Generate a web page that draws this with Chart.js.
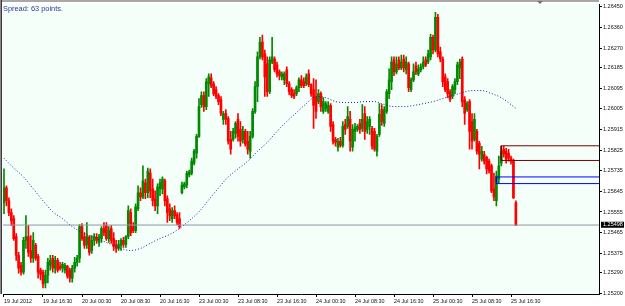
<!DOCTYPE html>
<html><head><meta charset="utf-8">
<script src="https://cdn.jsdelivr.net/npm/chart.js@4.4.0/dist/chart.umd.min.js"></script>
<style>html,body{margin:0;padding:0;background:#fff;overflow:hidden}canvas{display:block}</style>
</head><body>
<canvas id="c" width="625" height="306"></canvas>
<script>
// M30 candles, 19 Jul 2012 08:30 .. 25 Jul 2012 17:30
// prices are stored in points above 1.25000 (1 point = 0.00001)
const OPEN = [
595,660,604,552,526,448,366,322,292,431,
448,387,353,409,361,301,292,245,279,322,
353,310,344,318,310,301,318,301,266,310,
335,353,491,448,413,444,387,431,444,422,
439,483,496,439,483,439,413,396,409,431,
413,448,552,491,474,569,639,621,682,639,
725,656,613,582,656,656,691,613,569,526,
561,543,526,639,665,673,717,725,768,812,
885,1024,1063,1015,1115,1141,1115,1089,1063,1046,
959,985,963,872,872,898,959,916,872,907,
864,820,885,994,1102,1232,1297,1245,1202,1080,
1210,1223,1197,1167,1145,1132,1176,1115,1089,1072,
1072,1098,1132,1124,1115,1158,1111,1089,1059,1037,
1072,994,1007,994,1020,937,872,838,864,846,
937,929,959,838,907,916,942,920,985,916,
929,920,907,820,894,1002,942,994,1072,1124,
1219,1167,1219,1184,1223,1176,1202,1089,1132,1193,
1158,1176,1189,1219,1210,1232,1318,1262,1405,1254,
1223,1145,1124,1080,1059,1089,1124,1184,1223,1046,
1002,1037,950,872,907,855,786,807,794,777,
756,656,604,699,768,829,820,812,790,777,
595];
const HIGH = [
743,669,617,569,539,461,379,335,444,539,
496,452,465,418,370,310,301,301,353,366,
366,361,353,335,335,331,322,310,322,357,
366,500,504,465,509,452,452,461,461,457,
491,509,509,491,496,465,431,431,439,444,
452,582,569,509,591,669,660,756,699,747,
743,699,647,678,699,708,699,626,591,574,
582,552,552,686,686,734,738,790,829,894,
1050,1080,1080,1137,1158,1158,1124,1102,1072,1059,
994,1002,972,907,920,950,985,950,929,916,
907,907,1007,1124,1254,1318,1327,1262,1232,1232,
1318,1232,1210,1176,1167,1167,1189,1124,1098,1089,
1106,1141,1150,1141,1158,1176,1115,1137,1132,1089,
1080,1054,1037,1037,1028,950,881,877,881,950,
959,1015,994,937,942,937,959,1024,1015,972,
972,929,920,894,1028,1024,1015,1089,1180,1232,
1232,1232,1232,1240,1240,1232,1210,1141,1202,1210,
1197,1202,1232,1232,1262,1331,1327,1427,1418,1275,
1232,1158,1137,1089,1111,1137,1210,1223,1232,1059,
1037,1046,985,985,916,864,842,820,799,786,
764,725,734,799,842,842,833,829,799,786,
604];
const LOW = [
548,582,539,496,431,344,288,279,284,396,
361,335,335,344,266,258,223,223,245,301,
292,288,292,301,292,288,266,249,249,292,
318,335,431,396,396,366,374,409,418,405,
422,452,431,422,418,387,379,387,387,400,
400,439,452,465,465,561,604,613,613,617,
617,582,561,548,626,634,582,509,517,509,
526,500,483,634,656,660,708,717,760,790,
881,1011,994,1002,1059,1098,1063,1050,1024,976,
937,937,851,807,864,877,864,842,855,842,
807,790,877,985,1037,1223,1219,1059,1059,1072,
1202,1167,1145,1132,1132,1111,1102,1067,1054,1050,
1063,1080,1098,1098,1106,1102,1059,920,963,1028,
994,985,994,985,907,851,842,820,838,838,
894,920,820,820,864,907,898,907,872,898,
894,829,820,799,885,933,929,985,1050,1089,
1150,1158,1176,1176,1167,1158,1080,1080,1124,1154,
1150,1167,1180,1189,1202,1219,1245,1254,1232,1210,
1102,1080,1054,1037,1050,1072,1111,1137,1015,937,
994,829,829,864,807,743,777,764,721,725,
639,604,582,682,756,794,768,777,764,613,
496];
const CLOSE = [
660,604,552,517,439,366,310,292,431,448,
379,353,431,353,292,284,240,279,335,344,
310,344,301,310,327,322,275,266,310,335,
353,491,439,409,448,379,431,448,431,448,
483,465,439,474,431,405,396,413,431,413,
448,561,465,474,578,639,621,691,639,734,
647,604,582,665,682,699,604,552,539,561,
539,509,491,673,678,725,730,777,820,885,
1015,1063,1015,1124,1145,1106,1072,1059,1037,985,
985,959,864,829,907,942,885,864,907,851,
829,885,994,1102,1232,1297,1232,1145,1080,1219,
1232,1176,1158,1150,1158,1158,1115,1080,1063,1059,
1098,1132,1106,1106,1145,1111,1072,1020,994,1072,
1015,1037,1028,1020,929,864,859,864,846,929,
916,972,864,916,924,929,916,959,907,950,
959,842,829,885,981,950,1002,1080,1132,1210,
1167,1202,1184,1210,1184,1210,1098,1132,1167,1167,
1180,1189,1210,1197,1245,1318,1262,1405,1245,1223,
1124,1089,1072,1046,1102,1124,1197,1210,1037,985,
1028,907,864,959,820,807,820,777,743,734,
647,621,712,756,820,807,786,790,777,617,
498];
// moving average (dotted), sampled at these bar indices
const MA_BARS = [0,4,8,12,16,20,24,28,32,36,40,44,48,52,56,60,64,68,72,76,80,84,88,92,96,100,104,108,112,116,120,124,128,132,136,140,144,148,152,156,160,164,168,172,176,180,184,188,192,196,200,204,208,210];
const MA_PTS = [790,747,708,656,604,556,526,491,465,448,431,413,396,387,396,418,439,457,483,517,556,608,660,708,743,777,820,859,907,950,989,1028,1059,1054,1037,1033,1033,1037,1037,1024,1015,1015,1020,1028,1037,1050,1063,1076,1085,1085,1072,1054,1024,1007];
// time axis labels and the bars they sit on
const TICK_BARS = [0,16,32,48,64,80,96,112,128,144,160,176,192,208];
const TICK_LABELS = ["19 Jul 2012","19 Jul 16:30","20 Jul 00:30","20 Jul 08:30","20 Jul 16:30","23 Jul 00:30","23 Jul 08:30","23 Jul 16:30","24 Jul 00:30","24 Jul 08:30","24 Jul 16:30","25 Jul 00:30","25 Jul 08:30","25 Jul 16:30"];
// price axis labels
const Y_TICKS = [1.26450,1.26360,1.26270,1.26185,1.26095,1.26005,1.25915,1.25825,1.25735,1.25645,1.25555,1.25465,1.25375,1.25290,1.25200];
const LAST_PRICE = 1.25498;
const RED_BOX = {fromBar: 204, top: 1.25844, bottom: 1.25780};
const BLUE_BOX = {fromBar: 202, top: 1.25708, bottom: 1.25679};
const SPREAD_TEXT = "Spread: 63 points.";

const BASE = 1.25;
const price = p => BASE + p / 100000;
const X_MIN = -0.41, X_MAX = 244.1;
const Y_MIN = 1.25197, Y_MAX = 1.264617;
const BULL = '#008a00', BEAR = '#ff0000';
const FONT = '"Liberation Sans", Arial, sans-serif';

const colors = CLOSE.map((c, i) => c >= OPEN[i] ? BULL : BEAR);
const wickData = CLOSE.map((c, i) => ({x: i, y: [price(LOW[i]), price(HIGH[i])]}));
const bodyData = CLOSE.map((c, i) => ({x: i, y: [price(OPEN[i]), price(c)]}));
const maData = MA_BARS.map((b, k) => ({x: b, y: price(MA_PTS[k])}));
const boxData = b => [
  {x: X_MAX + 5, y: b.top}, {x: b.fromBar, y: b.top},
  {x: b.fromBar, y: b.bottom}, {x: X_MAX + 5, y: b.bottom}
];

const decor = {
  id: 'decor',
  beforeDraw(chart) {
    const {ctx, chartArea: a} = chart;
    ctx.save();
    ctx.fillStyle = '#ffffff';
    ctx.fillRect(0, 0, chart.width, chart.height);
    ctx.fillStyle = '#f4fff9';
    ctx.fillRect(a.left, a.top, a.right - a.left, a.bottom - a.top);
    ctx.fillStyle = '#a8a8a8';
    ctx.fillRect(0, 0, a.right, 2);
    ctx.fillStyle = '#8a8a8a';
    ctx.fillRect(0, 0, 1, a.bottom);
    ctx.fillStyle = '#3a3a3a';
    ctx.fillRect(1, 0, 1, a.bottom);
    ctx.restore();
  },
  afterDraw(chart) {
    const {ctx, chartArea: a, scales: {y}} = chart;
    ctx.save();
    ctx.font = '7.4px ' + FONT;
    ctx.fillStyle = '#3a30a0';
    ctx.textBaseline = 'top';
    ctx.textAlign = 'left';
    ctx.fillText(SPREAD_TEXT, a.left, a.top + 1);
    const py = y.getPixelForValue(LAST_PRICE);
    ctx.fillStyle = '#000';
    ctx.fillRect(a.right + 2, py - 3.3, 23, 6);
    ctx.fillStyle = '#fff';
    ctx.font = '5.5px ' + FONT;
    ctx.textBaseline = 'middle';
    ctx.fillText(LAST_PRICE.toFixed(5), a.right + 4, py - 0.2);
    ctx.fillStyle = '#707070';
    ctx.beginPath();
    ctx.moveTo(537, 1); ctx.lineTo(543, 1); ctx.lineTo(540, 4); ctx.closePath();
    ctx.fill();
    ctx.restore();
  }
};

new Chart(document.getElementById('c'), {
  type: 'bar',
  data: {
    datasets: [
      {type: 'bar', data: wickData, backgroundColor: colors, barThickness: 1, grouped: false, borderWidth: 0, order: 6},
      {type: 'bar', data: bodyData, backgroundColor: colors, barThickness: 2, grouped: false, borderWidth: 0, minBarLength: 1, order: 5},
      {type: 'line', data: maData, borderColor: '#23239a', borderWidth: 1, borderDash: [1, 2], pointRadius: 0, tension: 0.4, cubicInterpolationMode: 'monotone', clip: 0, order: 4},
      {type: 'line', data: [{x: X_MIN - 5, y: LAST_PRICE}, {x: X_MAX + 5, y: LAST_PRICE}], borderColor: '#8d97a4', borderWidth: 1, pointRadius: 0, clip: 0, order: 3},
      {type: 'line', data: boxData(RED_BOX), borderColor: '#780000', borderWidth: 1, pointRadius: 0, clip: 0, order: 2},
      {type: 'line', data: boxData(BLUE_BOX), borderColor: '#0000ff', borderWidth: 1, pointRadius: 0, clip: 0, order: 1}
    ]
  },
  options: {
    responsive: false,
    animation: false,
    devicePixelRatio: 1,
    events: [],
    layout: {padding: {left: 3, top: 2, right: 0, bottom: 0}},
    plugins: {legend: {display: false}, tooltip: {enabled: false}, title: {display: false}},
    scales: {
      x: {
        type: 'linear', min: X_MIN, max: X_MAX, offset: false,
        afterBuildTicks: s => { s.ticks = TICK_BARS.map(v => ({value: v})); },
        afterFit: s => { s.height = 12; },
        grid: {drawOnChartArea: false, drawTicks: true, tickLength: 3, color: '#000', offset: false},
        border: {display: true, color: '#000', width: 1},
        ticks: {
          autoSkip: false, maxRotation: 0, minRotation: 0, align: 'start', padding: 1,
          color: '#111', font: {family: FONT, size: 5.4},
          callback: (v, i) => TICK_LABELS[i]
        }
      },
      y: {
        type: 'linear', position: 'right', min: Y_MIN, max: Y_MAX,
        afterBuildTicks: s => { s.ticks = Y_TICKS.map(v => ({value: v})); },
        afterFit: s => { s.width = 26; },
        grid: {drawOnChartArea: false, drawTicks: true, tickLength: 3, color: '#000'},
        border: {display: true, color: '#000', width: 1},
        ticks: {
          autoSkip: false, padding: 1, color: '#111', font: {family: FONT, size: 5.5},
          callback: v => v.toFixed(5)
        }
      }
    }
  },
  plugins: [decor]
});
</script>
</body></html>
